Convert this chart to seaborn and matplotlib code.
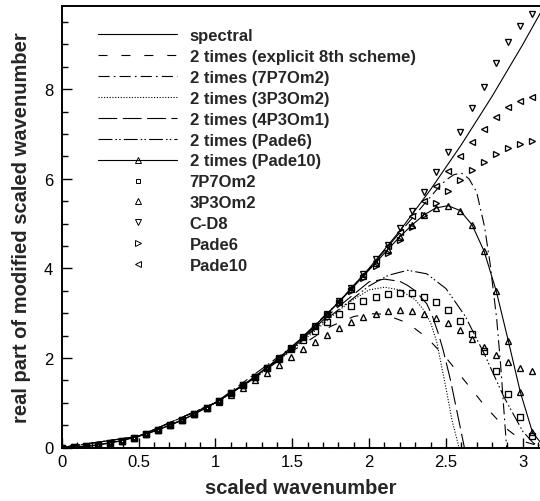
import matplotlib
matplotlib.use("Agg")
import matplotlib.pyplot as plt
from matplotlib.lines import Line2D
from matplotlib.ticker import MultipleLocator
import seaborn as sns

sns.set_style("ticks")
plt.rcParams['font.family'] = ['Liberation Sans', 'DejaVu Sans']
plt.rcParams['lines.scale_dashes'] = False

# ---------------- data ----------------
# marker grid (scaled wavenumber)
x_grid = [0.0, 0.0785, 0.1571, 0.2356, 0.3142, 0.3927, 0.4712, 0.5498, 0.6283, 0.7069,
          0.7854, 0.8639, 0.9425, 1.0210, 1.0996, 1.1781, 1.2566, 1.3352, 1.4137, 1.4923,
          1.5708, 1.6493, 1.7279, 1.8064, 1.8850, 1.9635, 2.0420, 2.1206, 2.1991, 2.2777,
          2.3562, 2.4347, 2.5133, 2.5918, 2.6704, 2.7489, 2.8274, 2.9060, 2.9845, 3.0631,
          3.1416]

# spectral (exact) curve
x_spec = [0.0, 0.2, 0.4, 0.6, 0.8, 1.0, 1.2, 1.4, 1.6, 1.8, 2.0, 2.2, 2.4, 2.6, 2.8, 3.0, 3.1416]
y_spec = [0.0, 0.04, 0.16, 0.36, 0.64, 1.0, 1.44, 1.96, 2.56, 3.24, 4.0, 4.84, 5.76, 6.76,
          7.84, 9.0, 9.8696]

# 2 times (explicit 8th scheme)
x_exp8 = [0.0, 0.25, 0.5, 0.75, 1.0, 1.25, 1.5, 1.75, 1.9, 2.0, 2.1, 2.25, 2.375, 2.5,
          2.625, 2.75, 2.875, 3.0, 3.1416]
y_exp8 = [0.0, 0.0625, 0.25, 0.562, 0.998, 1.543, 2.152, 2.705, 2.924, 2.990, 2.976, 2.780,
          2.456, 2.007, 1.477, 0.942, 0.471, 0.139, 0.0]

# 2 times (7P7Om2)
x_7p7_2 = [0.0, 0.5, 1.0, 1.5, 1.8, 2.0, 2.2, 2.3, 2.4, 2.45, 2.5, 2.55, 2.6, 2.65, 2.7,
           2.75, 2.786, 2.83, 2.856, 2.884, 2.895]
y_7p7_2 = [0.0, 0.25, 1.0, 2.25, 3.24, 3.99, 4.80, 5.20, 5.60, 5.80, 5.97, 6.09, 6.13, 6.00,
           5.70, 4.95, 4.14, 2.88, 1.84, 0.50, 0.0]

# 2 times (3P3Om2)
x_3p3_2 = [0.0, 0.5, 1.0, 1.25, 1.5, 1.75, 1.86, 2.0, 2.1, 2.2, 2.3, 2.36, 2.4, 2.44, 2.47,
           2.5, 2.54, 2.585]
y_3p3_2 = [0.0, 0.25, 0.995, 1.53, 2.18, 2.90, 3.22, 3.52, 3.58, 3.52, 3.30, 3.05, 2.79,
           2.36, 1.84, 1.33, 0.60, 0.0]

# 2 times (4P3Om1)
x_4p3_2 = [0.0, 0.5, 1.0, 1.25, 1.5, 1.75, 2.0, 2.1, 2.2, 2.25, 2.3, 2.375, 2.41, 2.45,
           2.48, 2.505, 2.53, 2.56, 2.59, 2.62]
y_4p3_2 = [0.0, 0.25, 0.998, 1.54, 2.20, 3.00, 3.70, 3.76, 3.71, 3.62, 3.50, 3.21, 2.95,
           2.55, 2.20, 1.85, 1.50, 1.00, 0.50, 0.0]

# 2 times (Pade6)
x_pade6_2 = [0.0, 0.5, 1.0, 1.25, 1.5, 1.75, 2.0, 2.125, 2.25, 2.375, 2.5, 2.625, 2.75,
             2.875, 3.0, 3.07, 3.1416]
y_pade6_2 = [0.0, 0.25, 0.999, 1.556, 2.218, 2.941, 3.607, 3.846, 3.957, 3.879, 3.549,
             2.935, 2.088, 1.144, 0.360, 0.095, 0.0]

# 2 times (Pade10) -- line with markers on the grid
y_pade10_2 = [0.0, 0.0062, 0.0247, 0.0555, 0.0987, 0.1542, 0.2221, 0.3023, 0.3948, 0.4997,
              0.6169, 0.7464, 0.8883, 1.0425, 1.2090, 1.3879, 1.5791, 1.7826, 1.9984, 2.2265,
              2.4667, 2.7190, 2.980, 3.255, 3.538, 3.829, 4.123, 4.416, 4.703, 4.963,
              5.192, 5.349, 5.400, 5.292, 4.971, 4.378, 3.493, 2.378, 1.230, 0.339,
              0.0]

# 7P7Om2
y_7p7 = [0.0, 0.0062, 0.0247, 0.0555, 0.0987, 0.1542, 0.2221, 0.3023, 0.3948, 0.4997,
         0.6169, 0.7464, 0.8883, 1.0425, 1.2090, 1.3879, 1.574, 1.773, 1.980, 2.19,
         2.41, 2.60, 2.80, 2.99, 3.15, 3.27, 3.36, 3.43, 3.46, 3.44,
         3.37, 3.25, 3.06, 2.82, 2.53, 2.15, 1.70, 1.19, 0.67, 0.26,
         0.05]

# 3P3Om2
y_3p3 = [0.0, 0.0062, 0.0247, 0.0555, 0.0987, 0.1542, 0.2221, 0.3023, 0.3948, 0.498,
         0.613, 0.739, 0.876, 1.022, 1.176, 1.338, 1.505, 1.672, 1.840, 2.02,
         2.19, 2.36, 2.52, 2.67, 2.80, 2.91, 2.99, 3.04, 3.06, 3.05,
         2.99, 2.90, 2.78, 2.62, 2.43, 2.25, 2.07, 1.90, 1.78, 1.70,
         1.67]

# C-D8
y_cd8 = [0.0, 0.0062, 0.0247, 0.0555, 0.0987, 0.1542, 0.2221, 0.3023, 0.3948, 0.4997,
         0.6169, 0.7464, 0.8883, 1.0425, 1.2090, 1.3879, 1.5791, 1.7827, 1.9986, 2.2269,
         2.4674, 2.7203, 2.9856, 3.2632, 3.5531, 3.87, 4.20, 4.53, 4.90, 5.29,
         5.70, 6.15, 6.59, 7.05, 7.57, 8.06, 8.58, 9.05, 9.42, 9.68,
         9.80]

# Pade6
y_pade6 = [0.0, 0.0062, 0.0247, 0.0555, 0.0987, 0.1542, 0.2221, 0.3023, 0.3948, 0.4997,
           0.6169, 0.7464, 0.8883, 1.0424, 1.2088, 1.3874, 1.5781, 1.7795, 1.995, 2.222,
           2.455, 2.701, 2.957, 3.222, 3.495, 3.775, 4.059, 4.346, 4.633, 4.918,
           5.197, 5.468, 5.725, 5.966, 6.186, 6.381, 6.547, 6.681, 6.778, 6.837,
           6.857]

# Pade10
y_pade10 = [0.0, 0.0062, 0.0247, 0.0555, 0.0987, 0.1542, 0.2221, 0.3023, 0.3948, 0.4997,
            0.6169, 0.7464, 0.8883, 1.0425, 1.2090, 1.3879, 1.5791, 1.7827, 1.9986, 2.2269,
            2.4674, 2.7203, 2.9856, 3.2632, 3.5531, 3.8553, 4.1699, 4.4968, 4.82, 5.16,
            5.50, 5.85, 6.18, 6.52, 6.82, 7.11, 7.37, 7.60, 7.74, 7.82,
            7.85]

legend_labels = ["spectral", "2 times (explicit 8th scheme)", "2 times (7P7Om2)",
                 "2 times (3P3Om2)", "2 times (4P3Om1)", "2 times (Pade6)",
                 "2 times (Pade10)", "7P7Om2", "3P3Om2", "C-D8", "Pade6", "Pade10"]

# ---------------- styles ----------------
LW = 0.8
ls_exp8 = (0, (6.5, 10))
ls_7p7 = (0, (8, 3, 1.2, 3))
ls_3p3 = (0, (0.8, 1.2))
ls_4p3 = (0, (13.5, 4))
ls_pade6 = (0, (10, 2.2, 1.1, 1.6, 1.1, 2.2))
MS = 5.0
MEW = 0.95

fig = plt.figure(figsize=(5.4, 5.02), dpi=100)
ax = fig.add_axes([61.7 / 540, 1 - 448.5 / 502, (540 - 61.7) / 540, (448.5 - 6.5) / 502])

def line(x, y, ls, **kw):
    sns.lineplot(x=x, y=y, ax=ax, color="k", linewidth=LW, linestyle=ls,
                 estimator=None, sort=False, legend=False, **kw)

line(x_spec, y_spec, "-")
line(x_exp8, y_exp8, ls_exp8)
line(x_7p7_2, y_7p7_2, ls_7p7)
line(x_3p3_2, y_3p3_2, ls_3p3)
line(x_4p3_2, y_4p3_2, ls_4p3)
line(x_pade6_2, y_pade6_2, ls_pade6)
line(x_grid, y_pade10_2, "-", marker="^", markersize=MS, markerfacecolor="none",
     markeredgecolor="k", markeredgewidth=MEW)

def pts(y, m, ms=MS):
    sns.lineplot(x=x_grid, y=y, ax=ax, color="k", linestyle="none", marker=m,
                 markersize=ms, markerfacecolor="none", markeredgecolor="k",
                 markeredgewidth=MEW, estimator=None, sort=False, legend=False)

pts(y_7p7, "s", 4.0)
pts(y_3p3, "^")
pts(y_cd8, "v")
pts(y_pade6, ">")
pts(y_pade10, "<")

ax.set_xlim(0, 3.112)
ax.set_ylim(0, 9.87)
ax.xaxis.set_major_locator(MultipleLocator(0.5))
ax.xaxis.set_minor_locator(MultipleLocator(0.1))
ax.yaxis.set_major_locator(MultipleLocator(2))
ax.yaxis.set_minor_locator(MultipleLocator(0.5))
ax.xaxis.set_major_formatter(matplotlib.ticker.FuncFormatter(lambda v, p: f"{v:g}"))
ax.tick_params(which="both", direction="in", top=False, right=False, width=1.0,
               labelsize=12, colors="k")
ax.tick_params(which="major", length=7.2)
ax.tick_params(axis="x", which="major", pad=5)
ax.tick_params(axis="y", which="major", pad=6)
ax.tick_params(which="minor", length=4.3)
for s in ["left", "bottom", "top"]:
    ax.spines[s].set_linewidth(1.4)
    ax.spines[s].set_color("k")
ax.spines["right"].set_visible(False)

ax.set_xlabel("scaled wavenumber", fontsize=14.5, fontweight="bold", labelpad=6)
ax.set_ylabel("real part of modified scaled wavenumber", fontsize=14.5,
              fontweight="bold", labelpad=9)

kw_m = dict(markerfacecolor="none", markeredgecolor="k", markeredgewidth=0.7)
handles = [
    Line2D([], [], color="k", lw=LW, ls="-"),
    Line2D([], [], color="k", lw=LW, ls=ls_exp8),
    Line2D([], [], color="k", lw=LW, ls=ls_7p7),
    Line2D([], [], color="k", lw=LW, ls=ls_3p3),
    Line2D([], [], color="k", lw=LW, ls=ls_4p3),
    Line2D([], [], color="k", lw=LW, ls=ls_pade6),
    Line2D([], [], color="k", lw=LW, ls="-", marker="^", markersize=4, **kw_m),
    Line2D([], [], ls="none", marker="s", markersize=3.3, **kw_m),
    Line2D([], [], ls="none", marker="^", markersize=4, **kw_m),
    Line2D([], [], ls="none", marker="v", markersize=4, **kw_m),
    Line2D([], [], ls="none", marker=">", markersize=4, **kw_m),
    Line2D([], [], ls="none", marker="<", markersize=4, **kw_m),
]
ax.legend(handles, legend_labels, loc="upper left", bbox_to_anchor=(98 / 540, 1 - 29 / 502),
          bbox_transform=fig.transFigure, frameon=False, borderpad=0, borderaxespad=0,
          handlelength=4.75, handletextpad=0.75, labelspacing=0.355, numpoints=1,
          prop=dict(weight="bold", size=12))

fig.savefig("out.png", dpi=100)
